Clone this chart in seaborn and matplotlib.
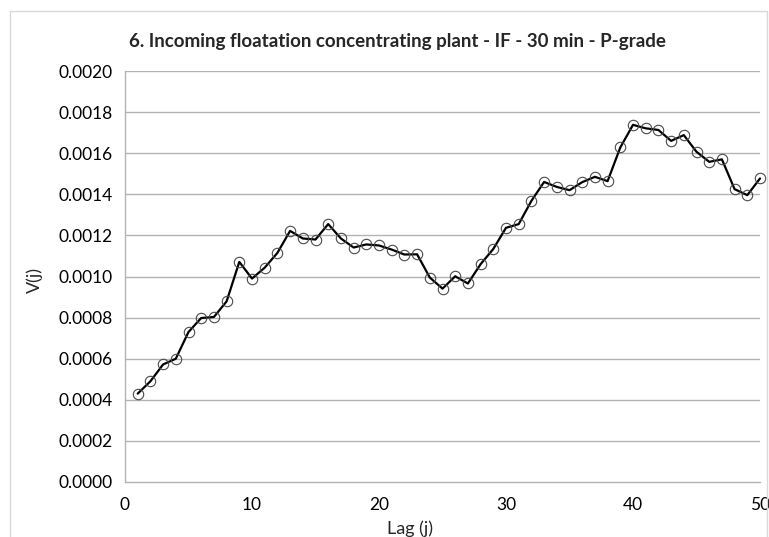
import numpy as np
import pandas as pd
import matplotlib
matplotlib.use("Agg")
import matplotlib.pyplot as plt
import seaborn as sns
from matplotlib.patches import Rectangle

# Variogram values V(j) for lags 1..50
lags = list(range(1, 51))
v_values = [
    0.000430, 0.000490, 0.000572, 0.000600, 0.000730, 0.000798, 0.000803, 0.000879, 0.001071, 0.000990,
    0.001043, 0.001115, 0.001222, 0.001185, 0.001180, 0.001255, 0.001185, 0.001141, 0.001156, 0.001151,
    0.001131, 0.001107, 0.001108, 0.000995, 0.000941, 0.001001, 0.000966, 0.001060, 0.001134, 0.001237,
    0.001255, 0.001368, 0.001460, 0.001436, 0.001420, 0.001459, 0.001485, 0.001464, 0.001628, 0.001738,
    0.001721, 0.001713, 0.001660, 0.001688, 0.001607, 0.001558, 0.001570, 0.001425, 0.001396, 0.001477,
]
x_ticks = [0, 10, 20, 30, 40, 50]
y_ticks = [0.0000, 0.0002, 0.0004, 0.0006, 0.0008, 0.0010, 0.0012, 0.0014, 0.0016, 0.0018, 0.0020]
title = "6. Incoming floatation concentrating plant - IF - 30 min - P-grade"
x_label = "Lag (j)"
y_label = "V(j)"

df = pd.DataFrame({"lag": lags, "V": v_values})

sns.set_theme(style="white")
plt.rcParams["font.family"] = ["Lato", "DejaVu Sans"]

W, H = 769, 537
fig = plt.figure(figsize=(W / 100, H / 100), dpi=100)
ax = fig.add_axes([125 / W, 1 - 482 / H, (760 - 125) / W, (482 - 71) / H])

grid_c = "#b3b3b3"
for yv in y_ticks[1:]:
    ax.axhline(yv, color=grid_c, lw=1.0, zorder=0)

sns.lineplot(data=df, x="lag", y="V", ax=ax, color="black", lw=1.6,
             marker="o", markersize=7.5, markerfacecolor="none",
             markeredgecolor="#4a4a4a", markeredgewidth=0.8, zorder=3,
             clip_on=False)

ax.set_xlim(0, 50)
ax.set_ylim(0, 0.0020)
ax.set_xticks(x_ticks)
ax.set_yticks(y_ticks)
ax.set_xticklabels([str(t) for t in x_ticks])
ax.set_yticklabels([f"{t:.4f}" for t in y_ticks])
ax.tick_params(axis="both", labelsize=12.5, colors="#8a8a8a", labelcolor="black",
               length=5, width=1.0, direction="out", pad=4)
ax.tick_params(axis="x", pad=6)
for side in ["top", "right"]:
    ax.spines[side].set_visible(False)
for side in ["left", "bottom"]:
    ax.spines[side].set_color(grid_c)
    ax.spines[side].set_linewidth(1.0)
ax.set_xlabel("")
ax.set_ylabel("")

fig.text(397 / W, 1 - 42 / H, title, ha="center", va="center",
         fontsize=13.5, fontweight="bold")
fig.text(410 / W, 1 - 529 / H, x_label, ha="center", va="center", fontsize=13)
fig.text(35 / W, 1 - 280 / H, y_label, ha="center", va="center",
         fontsize=13, rotation=90)

# Chart-area border
fig.patches.append(Rectangle((10 / W, -0.1), (767 - 10) / W, 1 - 11 / H + 0.1,
                             transform=fig.transFigure, fill=False,
                             edgecolor="#d9d9d9", lw=1.0))

fig.savefig("out.png", dpi=100)
